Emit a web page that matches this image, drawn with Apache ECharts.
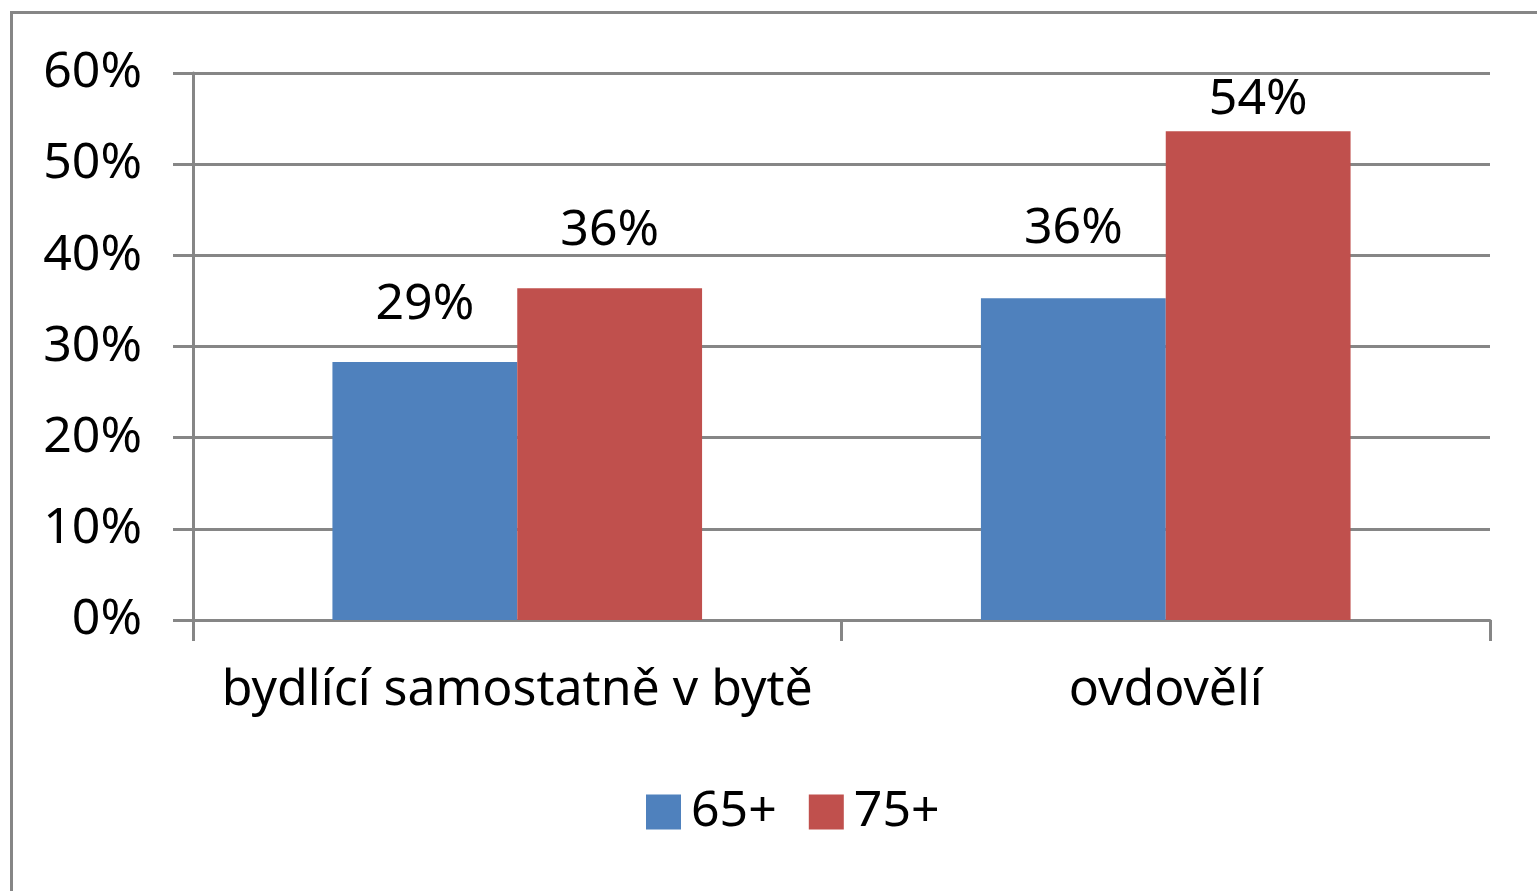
<!DOCTYPE html>
<html>
<head>
<meta charset="utf-8">
<title>bydlící samostatně / ovdovělí</title>
<script src="https://cdn.jsdelivr.net/npm/echarts@6/dist/echarts.min.js"></script>
<style>
  html, body { margin: 0; padding: 0; background: #fff; }
  #frame {
    position: absolute; left: 10px; top: 11px; right: -10px; bottom: -10px;
    border-top: 3px solid #868686; border-left: 3px solid #868686;
  }
  #chart { position: absolute; left: 0; top: 0; width: 1537px; height: 891px; }
</style>
</head>
<body>
<div id="frame"></div>
<div id="chart"></div>
<script>
// data
const categories = ['bydlící samostatně v bytě', 'ovdovělí'];
const seriesNames = ['65+', '75+'];
const values65 = [28.3, 35.3];
const values75 = [36.4, 53.6];
const labels65 = ['29%', '36%'];
const labels75 = ['36%', '54%'];
const yTicks = { min: 0, max: 60, interval: 10 };

const FONT = '"Noto Sans", sans-serif';
const GRAY = '#868686';

const chart = echarts.init(document.getElementById('chart'));

// labels sit at slightly different heights above the bars in the original
function barData(values, labels, gaps) {
  return values.map(function (v, i) {
    return { value: v, label: { distance: gaps[i], formatter: labels[i] } };
  });
}

const labelStyle = {
  show: true,
  position: 'top',
  fontFamily: FONT,
  fontSize: 50,
  color: '#000'
};

const option = {
  animation: false,
  textStyle: { fontFamily: FONT },
  grid: { left: 193, right: 47, top: 73, bottom: 271, containLabel: false },
  legend: {
    data: seriesNames,
    left: 641,
    top: 782,
    itemWidth: 35,
    itemHeight: 35,
    itemGap: 32,
    icon: 'rect',
    textStyle: { fontFamily: FONT, fontSize: 50, color: '#000', padding: [0, 0, 0, 5] }
  },
  xAxis: {
    type: 'category',
    data: categories,
    axisLine: { lineStyle: { color: GRAY, width: 3 } },
    axisTick: { show: true, length: 21, lineStyle: { color: GRAY, width: 3 } },
    axisLabel: { interval: 0, fontFamily: FONT, fontSize: 50, color: '#000', margin: 46 }
  },
  yAxis: {
    type: 'value',
    min: yTicks.min,
    max: yTicks.max,
    interval: yTicks.interval,
    axisLine: { show: true, lineStyle: { color: GRAY, width: 3 } },
    axisTick: { show: true, length: 20, lineStyle: { color: GRAY, width: 3 } },
    splitLine: { lineStyle: { color: GRAY, width: 3 } },
    axisLabel: {
      fontFamily: FONT, fontSize: 50, color: '#000', margin: 51,
      formatter: '{value}%'
    }
  },
  series: [
    {
      name: seriesNames[0],
      type: 'bar',
      data: barData(values65, labels65, [32, 44]),
      barGap: '0%',
      barCategoryGap: '43%',
      itemStyle: { color: '#4F81BD' },
      label: labelStyle
    },
    {
      name: seriesNames[1],
      type: 'bar',
      data: barData(values75, labels75, [32, 7]),
      barGap: '0%',
      barCategoryGap: '43%',
      itemStyle: { color: '#C0504D' },
      label: labelStyle
    }
  ]
};

chart.setOption(option);
window.addEventListener('resize', function () { chart.resize(); });
</script>
</body>
</html>
